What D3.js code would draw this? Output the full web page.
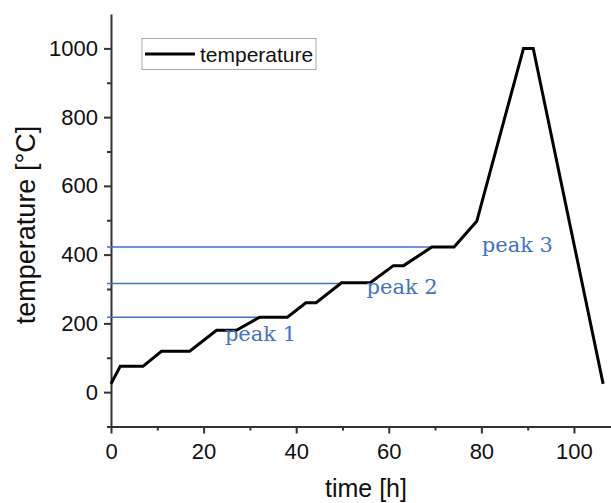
<!DOCTYPE html>
<html>
<head>
<meta charset="utf-8">
<script src="https://cdn.jsdelivr.net/npm/d3@7"></script>
<style>
  body { margin: 0; background: #fff; }
  text { font-family: "Liberation Sans", Arial, sans-serif; }
</style>
</head>
<body>
<script>
// ---- data ----
var times = [0, 2, 6.9, 10.9, 17, 22.8, 27.1, 32.1, 38.1, 42.1, 44.3, 49.8, 56, 61, 63.2, 69.3, 74.1, 79, 89.1, 91.2, 106.3]
var temps = [24, 75, 75, 119, 119, 180, 180, 218, 218, 260, 260, 318, 318, 368, 368, 422, 422, 497, 1000, 1000, 24]

var peakNames = ["peak 1", "peak 2", "peak 3"]
var peakTemps = [218, 316, 422]
var peakTimes = [32.1, 49.8, 69.3]
var peakLabelT = [24.6, 55.2, 80.1]
var peakLabelY = [148, 286, 408]

var xMajor = [0, 20, 40, 60, 80, 100]
var xMinor = [10, 30, 50, 70, 90]
var yMajor = [0, 200, 400, 600, 800, 1000]
var yMinor = [-100, 100, 300, 500, 700, 900]

// ---- setup ----
var W = 611, H = 503
var svg = d3.select("body").append("svg").attr("width", W).attr("height", H)

var x = d3.scaleLinear().domain([0, 108]).range([111, 611])
var y = d3.scaleLinear().domain([-100, 1100]).range([426.5, 14])

var axisCol = "#333"

// y axis
var gy = svg.append("g").attr("transform", "translate(" + x(0) + ",0)")
gy.call(d3.axisLeft(y).tickValues(yMajor).tickFormat(d3.format("d"))
  .tickSize(7).tickPadding(6).tickSizeOuter(0))
gy.append("g").call(d3.axisLeft(y).tickValues(yMinor).tickSize(4).tickFormat("").tickSizeOuter(0))
  .select(".domain").remove()

// x axis
var gx = svg.append("g").attr("transform", "translate(0," + y(-100) + ")")
gx.call(d3.axisBottom(x).tickValues(xMajor).tickFormat(d3.format("d"))
  .tickSize(7).tickPadding(10).tickSizeOuter(0))
gx.append("g").call(d3.axisBottom(x).tickValues(xMinor).tickSize(4).tickFormat("").tickSizeOuter(0))
  .select(".domain").remove()

svg.selectAll(".domain").attr("stroke", axisCol).attr("stroke-width", 2)
svg.selectAll(".tick line").attr("stroke", axisCol).attr("stroke-width", 2)
svg.selectAll(".tick text")
  .style("font-family", "'Liberation Sans', Arial, sans-serif")
  .style("font-size", "22px").attr("fill", "#111")

// axis titles
svg.append("text")
  .attr("x", 366).attr("y", 497)
  .attr("text-anchor", "middle")
  .style("font-size", "25px").attr("fill", "#111")
  .text("time [h]")

svg.append("text")
  .attr("transform", "translate(35,225) rotate(-90)")
  .attr("text-anchor", "middle")
  .style("font-size", "27px").attr("fill", "#111")
  .text("temperature [°C]")

// peak guide lines
var blue = "#4472C4"
peakTemps.forEach(function (T, i) {
  svg.append("line")
    .attr("x1", x(0) - 4).attr("x2", x(peakTimes[i]))
    .attr("y1", y(T)).attr("y2", y(T))
    .attr("stroke", blue).attr("stroke-width", 1.5)
})

// temperature curve
var pts = times.map(function (t, i) { return [t, temps[i]] })
var line = d3.line().x(function (d) { return x(d[0]) }).y(function (d) { return y(d[1]) })
svg.append("path").datum(pts)
  .attr("d", line)
  .attr("fill", "none").attr("stroke", "#000").attr("stroke-width", 3)
  .attr("stroke-linejoin", "miter")

// peak labels
peakNames.forEach(function (name, i) {
  svg.append("text")
    .attr("x", x(peakLabelT[i])).attr("y", y(peakLabelY[i]))
    .style("font-family", "'DejaVu Serif', 'Liberation Serif', serif")
    .style("font-size", "21px")
    .attr("fill", blue)
    .text(name)
})

// legend
var lg = svg.append("g")
lg.append("rect").attr("x", 142).attr("y", 38.5).attr("width", 174).attr("height", 31)
  .attr("fill", "#fff").attr("stroke", "#aaa").attr("stroke-width", 1)
lg.append("line").attr("x1", 145).attr("x2", 195).attr("y1", 54).attr("y2", 54)
  .attr("stroke", "#000").attr("stroke-width", 3)
lg.append("text").attr("x", 200).attr("y", 61.5)
  .style("font-size", "21px").attr("fill", "#111")
  .text("temperature")
</script>
</body>
</html>
